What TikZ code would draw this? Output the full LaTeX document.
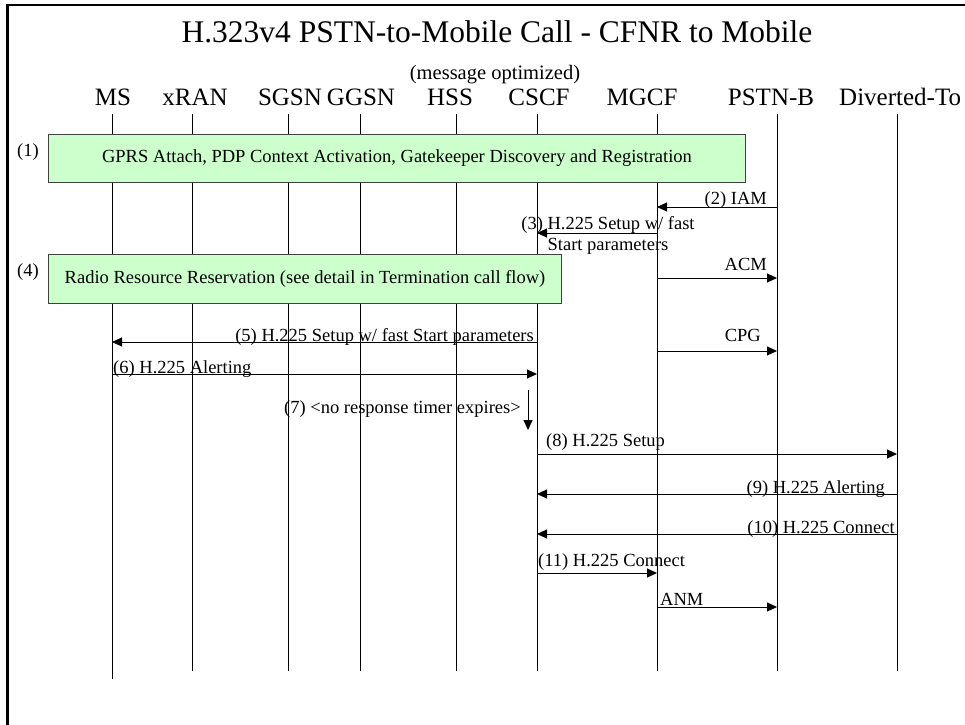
\documentclass[tikz,border=0pt]{standalone}
\usepackage{fontspec}
\setmainfont{Liberation Serif}
\usetikzlibrary{arrows.meta}
\definecolor{boxgreen}{HTML}{CCFFCC}
\definecolor{boxedge}{HTML}{404040}
\begin{document}
\begin{tikzpicture}[x=1pt,y=-1pt,
  lifeline/.style={line width=1pt},
  msg/.style={line width=1pt,-{Triangle[length=10pt,width=9pt]}},
  box/.style={draw=boxedge,fill=boxgreen,line width=1pt,inner sep=0pt,
              font=\fontsize{18.5}{21}\selectfont},
  lbl/.style={font=\fontsize{18.5}{21}\selectfont,inner sep=0pt},
  head/.style={font=\fontsize{25}{29}\selectfont,inner sep=0pt,anchor=base},
]
\clip (0,0) rectangle (965,724);
% outer frame (runs past the page on the right and bottom)
\draw[line width=2.5pt] (7.5,5) rectangle (995,760);

% title
\node[inner sep=0pt,anchor=base,font=\fontsize{31.5}{36}\selectfont] (title) at (497,42)
  {H.323v4 PSTN-to-Mobile Call - CFNR to Mobile};
\node[inner sep=0pt,anchor=base,font=\fontsize{20.5}{24}\selectfont] (subtitle) at (495,79)
  {(message optimized)};

% entity names
\node[head] (h-ms)    at (113,105) {MS};
\node[head] (h-xran)  at (195,105) {xRAN};
\node[head] (h-sgsn)  at (290,105) {SGSN};
\node[head] (h-ggsn)  at (361,105) {GGSN};
\node[head] (h-hss)   at (450,105) {HSS};
\node[head] (h-cscf)  at (539,105) {CSCF};
\node[head] (h-mgcf)  at (642,105) {MGCF};
\node[head] (h-pstnb) at (771,105) {PSTN-B};
\node[head,anchor=base west] (h-div) at (839,105) {Diverted-To};

% lifelines
\coordinate (ms)    at (112,114);
\coordinate (xran)  at (192,114);
\coordinate (sgsn)  at (288,114);
\coordinate (ggsn)  at (360,114);
\coordinate (hss)   at (456,114);
\coordinate (cscf)  at (537,114);
\coordinate (mgcf)  at (657,114);
\coordinate (pstnb) at (777,114);
\coordinate (div)   at (897,114);
\draw[lifeline] (ms) -- (ms |- 0,679);
\foreach \e in {xran,sgsn,ggsn,hss,cscf,mgcf,pstnb,div}
  \draw[lifeline] (\e) -- (\e |- 0,671);

% procedure boxes
\node[box,minimum width=697pt,minimum height=48pt,anchor=north west] (b1) at (48,134)
  {GPRS Attach, PDP Context Activation, Gatekeeper Discovery and Registration};
\node[lbl] (n1) at (28,152) {(1)};
\node[box,minimum width=513pt,minimum height=49pt,anchor=north west] (b4) at (48,254)
  {Radio Resource Reservation (see detail in Termination call flow)};
\node[lbl] (n4) at (28,272) {(4)};

% messages
\draw[msg] (pstnb |- 0,207) -- (mgcf |- 0,207);
\node[lbl,anchor=base east] (m2) at (767,204) {(2) IAM};

\draw[msg] (mgcf |- 0,233) -- (cscf |- 0,233);
\node[lbl,anchor=base] (m3a) at (608,229) {(3) H.225 Setup w/ fast};
\node[lbl,anchor=base] (m3b) at (608,250) {Start parameters};

\draw[msg] (mgcf |- 0,278) -- (pstnb |- 0,278);
\node[lbl,anchor=base east] (acm) at (767,270) {ACM};

\draw[msg] (cscf |- 0,342) -- (ms |- 0,342);
\node[lbl,anchor=base east] (m5) at (534,341) {(5) H.225 Setup w/ fast Start parameters};

\draw[msg] (mgcf |- 0,351) -- (pstnb |- 0,351);
\node[lbl,anchor=base east] (cpg) at (761,341) {CPG};

\draw[msg] (ms |- 0,374) -- (cscf |- 0,374);
\node[lbl,anchor=base west] (m6) at (113,373) {(6) H.225 Alerting};

\node[lbl,anchor=base east] (m7) at (521,413) {(7) <no response timer expires>};
\coordinate (t7a) at (528,390);
\coordinate (t7b) at (528,430);
\draw[msg] (t7a) -- (t7b);

\draw[msg] (cscf |- 0,454) -- (div |- 0,454);
\node[lbl,anchor=base west] (m8) at (546,446) {(8) H.225 Setup};

\draw[msg] (div |- 0,494) -- (cscf |- 0,494);
\node[lbl,anchor=base east] (m9) at (885,493) {(9) H.225 Alerting};

\draw[msg] (div |- 0,534) -- (cscf |- 0,534);
\node[lbl,anchor=base east] (m10) at (895,533) {(10) H.225 Connect};

\draw[msg] (cscf |- 0,573) -- (mgcf |- 0,573);
\node[lbl,anchor=base west] (m11) at (538,566) {(11) H.225 Connect};

\draw[msg] (mgcf |- 0,607) -- (pstnb |- 0,607);
\node[lbl,anchor=base west] (anm) at (660,605) {ANM};
\end{tikzpicture}
\end{document}
